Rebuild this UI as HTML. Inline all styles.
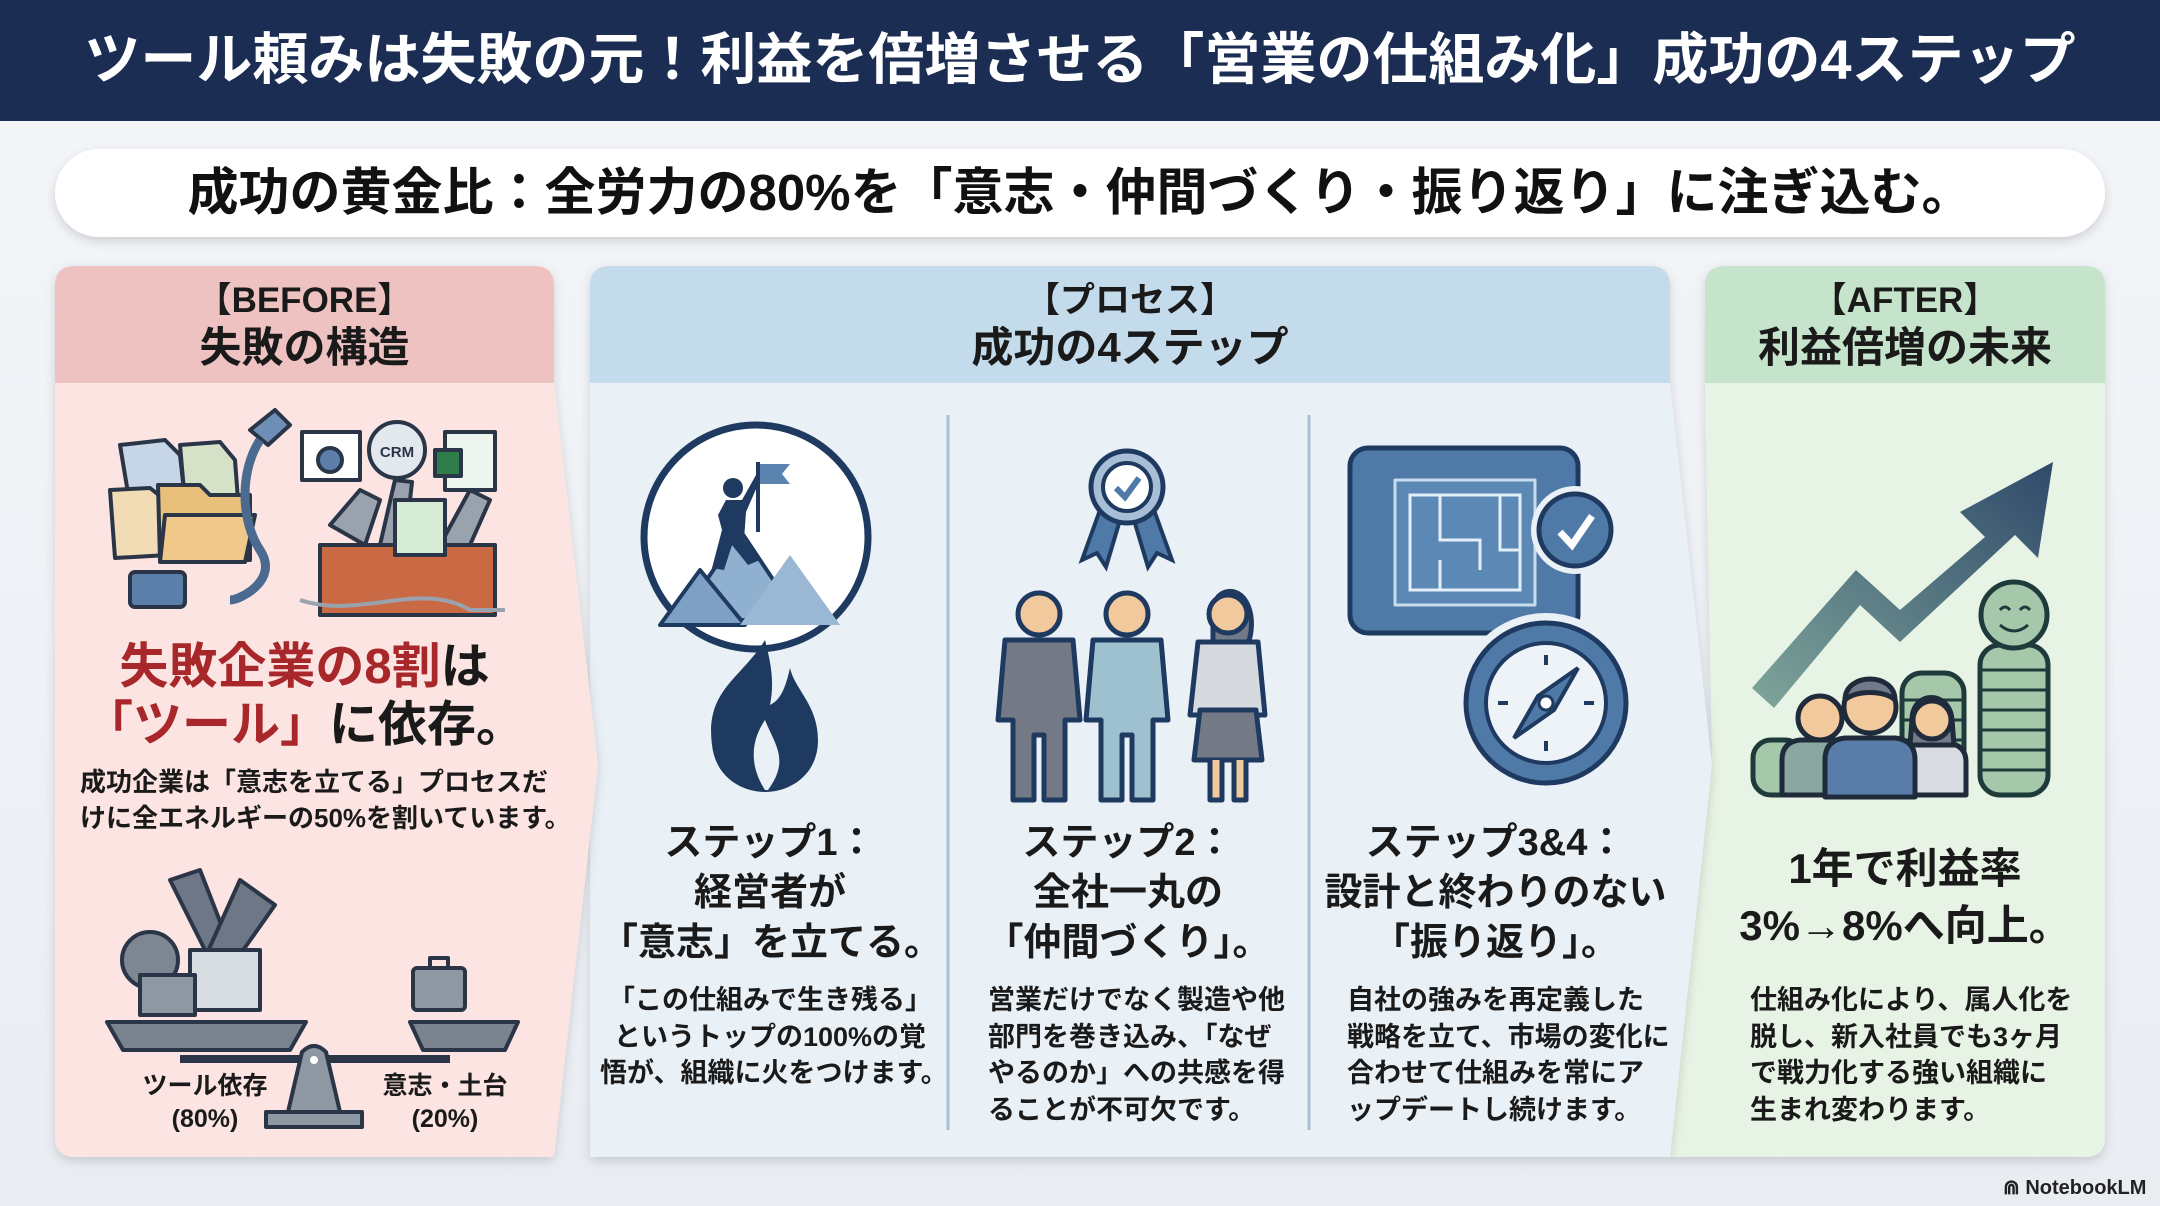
<!DOCTYPE html>
<html><head><meta charset="utf-8">
<style>
*{margin:0;padding:0;box-sizing:border-box}
body{width:2160px;height:1206px;overflow:hidden;background:#eef1f5;font-family:"Liberation Sans","Noto Sans CJK JP",sans-serif;font-weight:700;color:#1a1a1a}
.a{position:absolute;white-space:nowrap}
.c{text-align:center}
svg{position:absolute;left:0;top:0}
</style></head><body>
<svg width="2160" height="1206" viewBox="0 0 2160 1206">
<defs>
<filter id="sh" x="-5%" y="-20%" width="110%" height="150%"><feDropShadow dx="0" dy="4" stdDeviation="5" flood-color="#000" flood-opacity="0.15"/></filter>
<linearGradient id="bg" x1="0" y1="0" x2="0" y2="1"><stop offset="0" stop-color="#f4f6f9"/><stop offset="1" stop-color="#e9edf2"/></linearGradient>
<linearGradient id="ar" x1="0" y1="1" x2="1" y2="0"><stop offset="0" stop-color="#7fa59a"/><stop offset="1" stop-color="#2f4a6a"/></linearGradient>
</defs>
<rect x="0" y="0" width="2160" height="1206" fill="url(#bg)"/>
<rect x="0" y="0" width="2160" height="121" fill="#1b2d52"/>
<rect x="55" y="149" width="2050" height="88" rx="44" fill="#fff" filter="url(#sh)"/>

<!-- AFTER panel -->
<g filter="url(#sh)">
<path d="M1725,266 H2085 Q2105,266 2105,286 V1137 Q2105,1157 2085,1157 H1670 L1712,765 L1705,383 V286 Q1705,266 1725,266 Z" fill="#e7f3e4"/>
</g>
<path d="M1725,266 H2085 Q2105,266 2105,286 V383 H1705 V286 Q1705,266 1725,266 Z" fill="#c6e4cb"/>
<!-- PROCESS panel -->
<g filter="url(#sh)">
<path d="M610,266 H1650 Q1670,266 1670,286 V383 L1712,765 L1670,1157 H590 V286 Q590,266 610,266 Z" fill="#e9f0f6"/>
</g>
<path d="M610,266 H1650 Q1670,266 1670,286 V383 H590 V286 Q590,266 610,266 Z" fill="#c4dbec"/>
<!-- BEFORE panel -->
<g filter="url(#sh)">
<path d="M75,266 H534 Q554,266 554,286 V383 L598,765 L554,1157 H75 Q55,1157 55,1137 V286 Q55,266 75,266 Z" fill="#fbe4e1"/>
</g>
<path d="M75,266 H534 Q554,266 554,286 V383 H55 V286 Q55,266 75,266 Z" fill="#efc2c2"/>

<!-- dividers -->
<line x1="948" y1="415" x2="948" y2="1130" stroke="#a9bfd3" stroke-width="3"/>
<line x1="1309" y1="415" x2="1309" y2="1130" stroke="#a9bfd3" stroke-width="3"/>

<!-- STEP1 icon -->
<g stroke="#1f3a60" stroke-width="7" stroke-linejoin="round">
<circle cx="756" cy="537" r="112" fill="#fff"/>
<path d="M680,620 L740,530 L800,620 Z" fill="#8fb0cf" stroke-width="4"/>
<path d="M660,625 L700,570 L745,625 Z" fill="#7ea0c4" stroke-width="4"/>
<path d="M740,625 L790,555 L840,625 Z" fill="#9ab8d4" stroke="none"/>
</g>
<rect x="756" y="462" width="4" height="70" fill="#1f3a60"/>
<path d="M760,464 L790,464 L782,474 L790,484 L760,484 Z" fill="#5b83b0"/>
<circle cx="733" cy="488" r="10" fill="#1f3a60"/>
<path d="M726,500 L742,500 L756,475 L760,480 L746,512 L744,540 L760,560 L748,565 L732,545 L724,570 L712,568 L722,530 L718,515 Z" fill="#1f3a60"/>
<path d="M765,640 C740,680 705,690 712,745 C716,780 745,792 765,792 C790,792 818,775 818,740 C818,705 795,690 790,668 C785,690 780,700 770,705 C775,680 770,660 765,640 Z" fill="#1f3a60"/>
<path d="M765,790 C752,770 748,745 765,720 C775,745 790,760 768,790 Z" fill="#e9f0f6"/>

<!-- STEP2 icon -->
<path d="M1100,510 L1082,560 L1097,553 L1106,567 L1120,520 Z M1154,510 L1172,560 L1157,553 L1148,567 L1134,520 Z" fill="#4f7aa8" stroke="#1f3a60" stroke-width="4"/>
<circle cx="1127" cy="487" r="36" fill="#a7bfd6" stroke="#1f3a60" stroke-width="5"/>
<circle cx="1127" cy="487" r="24" fill="#fff" stroke="#1f3a60" stroke-width="4"/>
<path d="M1116,488 L1125,497 L1139,478" fill="none" stroke="#4f7aa8" stroke-width="6"/>
<g stroke="#1f3a60" stroke-width="5" stroke-linejoin="round">
<circle cx="1039" cy="614" r="21" fill="#f1c99c"/>
<path d="M1005,640 H1073 L1080,720 H1065 V800 H1044 V735 H1034 V800 H1013 V720 H998 Z" fill="#737a85"/>
<circle cx="1127" cy="614" r="21" fill="#f1c99c"/>
<path d="M1093,640 H1161 L1168,720 H1153 V800 H1132 V735 H1122 V800 H1101 V720 H1086 Z" fill="#9ec1cf"/>
<path d="M1213,612 C1213,590 1235,585 1245,600 C1255,615 1252,640 1245,648 H1213 Z" fill="#707a88"/>
<circle cx="1228" cy="614" r="19" fill="#f1c99c"/>
<path d="M1198,642 H1258 L1265,715 H1252 L1258,760 H1198 L1204,715 H1190 Z" fill="#d6d9de"/>
<path d="M1200,710 H1256 L1262,760 H1194 Z" fill="#737a85"/>
<path d="M1210,760 V800 H1222 V760 M1234,760 V800 H1246 V760" fill="#f1c99c"/>
</g>

<!-- STEP3 icon -->
<g stroke="#1f3a60" stroke-width="5" stroke-linejoin="round">
<rect x="1350" y="448" width="228" height="185" rx="18" fill="#4f7aa8"/>
<rect x="1395" y="480" width="140" height="125" fill="#5c88b6" stroke="#c9dcee" stroke-width="3"/>
</g>
<path d="M1410,495 V590 H1520 V495 Z M1440,495 V540 H1480 V570 M1500,495 V550 H1520 M1440,560 V590" fill="none" stroke="#e3eef8" stroke-width="3"/>
<circle cx="1575" cy="530" r="44" fill="#e9f0f6"/>
<circle cx="1575" cy="530" r="36" fill="#4f7aa8" stroke="#1f3a60" stroke-width="5"/>
<path d="M1560,532 L1572,545 L1592,516" fill="none" stroke="#fff" stroke-width="7"/>
<circle cx="1546" cy="703" r="90" fill="#e9f0f6"/>
<circle cx="1546" cy="703" r="80" fill="#4f7aa8" stroke="#1f3a60" stroke-width="5"/>
<circle cx="1546" cy="703" r="60" fill="#eef3f8" stroke="#1f3a60" stroke-width="4"/>
<path d="M1546,655 V665 M1546,741 V751 M1498,703 H1508 M1584,703 H1594" stroke="#1f3a60" stroke-width="4"/>
<path d="M1578,668 L1554,710 L1514,738 L1538,696 Z" fill="#4f7aa8" stroke="#1f3a60" stroke-width="4"/>
<circle cx="1546" cy="703" r="7" fill="#fff" stroke="#1f3a60" stroke-width="3"/>

<!-- AFTER icon -->
<path d="M1752,688 L1856,570 L1900,610 L1985,537 L1960,512 L2053,462 L2038,558 L2015,535 L1900,642 L1860,605 L1774,708 Z" fill="url(#ar)"/>
<g stroke="#1f3a3a" stroke-width="5">
<rect x="1753" y="740" width="50" height="55" rx="18" fill="#a5c7aa"/>
<rect x="1902" y="673" width="62" height="122" rx="20" fill="#a5c7aa"/>
<rect x="1980" y="645" width="68" height="150" rx="20" fill="#a5c7aa"/>
<circle cx="2014" cy="615" r="33" fill="#a5c7aa"/>
</g>
<g stroke="#1f3a3a" stroke-width="3">
<path d="M1980,670 H2048 M1980,690 H2048 M1980,710 H2048 M1980,730 H2048 M1980,750 H2048 M1980,770 H2048 M1902,700 H1964 M1902,720 H1964 M1902,740 H1964 M1902,760 H1964 M1902,780 H1964"/>
</g>
<path d="M2000,610 q5,-6 10,0 M2020,610 q5,-6 10,0 M2000,625 q14,12 28,0" fill="none" stroke="#1f3a3a" stroke-width="3"/>
<g stroke="#1f2a3a" stroke-width="5" stroke-linejoin="round">
<path d="M1782,795 V760 Q1782,742 1800,740 H1840 Q1858,742 1858,760 V795 Z" fill="#8aa8a0"/>
<circle cx="1820" cy="718" r="22" fill="#f1c99c"/>
<path d="M1900,795 V762 Q1900,745 1918,743 H1948 Q1966,745 1966,762 V795 Z" fill="#d8dce2"/>
<path d="M1912,720 C1912,690 1950,690 1952,720 L1954,745 H1910 Z" fill="#707a88"/>
<circle cx="1932" cy="720" r="19" fill="#f1c99c"/>
<path d="M1825,797 V760 Q1825,740 1845,738 H1895 Q1915,740 1915,760 V797 Z" fill="#5a7ca8"/>
<circle cx="1870" cy="707" r="26" fill="#f1c99c"/>
<path d="M1845,700 C1845,672 1895,672 1895,700 C1885,690 1855,690 1845,700 Z" fill="#707a88"/>
</g>

<!-- BEFORE tools cluster -->
<g stroke="#2a3548" stroke-width="4" stroke-linejoin="round">
<path d="M120,445 L165,440 L180,455 L185,500 L130,505 Z" fill="#c6d6e6"/>
<path d="M180,445 L220,442 L235,460 L238,500 L185,502 Z" fill="#d6e2c8"/>
<path d="M110,490 L150,488 L165,500 L168,555 L115,558 Z" fill="#f2dcb6"/>
<path d="M158,485 H200 L210,495 H250 V560 H160 Z" fill="#e8c07c"/>
<path d="M165,515 H255 L245,562 H160 Z" fill="#f0c88a"/>
<rect x="130" y="572" width="55" height="35" rx="5" fill="#5b7fa8"/>
<path d="M250,430 L275,410 L290,425 L268,445 Z" fill="#6d8fb5"/>
<path d="M260,440 C240,470 240,520 260,550 C280,580 240,600 230,600" fill="none" stroke="#4a6a90" stroke-width="9"/>
<rect x="302" y="432" width="58" height="48" fill="#fff"/>
<path d="M318,460 a12,12 0 1,0 24,0 a12,12 0 1,0 -24,0" fill="#5b7fa8"/>
<circle cx="397" cy="450" r="28" fill="#e3e8ee"/>
<rect x="445" y="432" width="50" height="58" fill="#eef4ee"/>
<rect x="435" y="450" width="26" height="26" fill="#2f7d4a"/>
<path d="M320,545 H495 V615 H320 Z" fill="#c96a44"/>
<path d="M330,525 L360,490 L380,500 L365,545 Z M440,545 L470,490 L490,500 L470,545 Z M380,545 L395,480 L412,482 L405,545 Z" fill="#9aa3ad"/>
<rect x="395" y="500" width="50" height="55" fill="#d6ecd6"/>
<path d="M300,600 C360,620 420,580 470,610 L505,610" fill="none" stroke="#9aa3ad" stroke-width="4"/>
</g>
<text x="397" y="457" font-size="15" text-anchor="middle" fill="#2a3548" font-family="Liberation Sans" font-weight="700">CRM</text>

<!-- BEFORE scale -->
<g stroke="#2a3548" stroke-width="4" stroke-linejoin="round">
<path d="M170,880 L200,870 L235,960 L215,970 Z" fill="#6e7785"/>
<path d="M240,880 L275,905 L215,990 L195,980 Z" fill="#6e7785"/>
<circle cx="150" cy="960" r="28" fill="#7d8692"/>
<rect x="190" y="950" width="70" height="60" fill="#d8dde2"/>
<rect x="140" y="975" width="55" height="40" fill="#8e97a2"/>
<rect x="413" y="968" width="52" height="42" rx="4" fill="#8e97a2"/>
<path d="M430,968 V958 H448 V968" fill="none"/>
<path d="M107,1022 H306 L290,1050 H123 Z" fill="#7a838e"/>
<path d="M410,1022 H518 L505,1050 H423 Z" fill="#7a838e"/>
<rect x="180" y="1055" width="270" height="8" fill="#2a3548" stroke="none"/>
<path d="M302,1052 Q314,1040 326,1052 L340,1112 H288 Z" fill="#8e97a2"/>
<rect x="266" y="1112" width="96" height="15" fill="#8e97a2"/>
</g>
<circle cx="314" cy="1060" r="4" fill="#fff"/>
</svg>

<!-- Texts -->
<div class="a c" style="left:0;width:2160px;top:26px;font-size:56px;line-height:68px;color:#fff">ツール頼みは失敗の元！利益を倍増させる「営業の仕組み化」成功の4ステップ</div>
<div class="a c" style="left:55px;width:2050px;top:160px;font-size:51px;line-height:66px;color:#111">成功の黄金比：全労力の80%を「意志・仲間づくり・振り返り」に注ぎ込む。</div>

<div class="a c" style="left:55px;width:499px;top:280px;font-size:35px;line-height:42px">【BEFORE】</div>
<div class="a c" style="left:55px;width:499px;top:323px;font-size:42px;line-height:50px">失敗の構造</div>
<div class="a c" style="left:590px;width:1080px;top:280px;font-size:35px;line-height:42px">【プロセス】</div>
<div class="a c" style="left:590px;width:1080px;top:323px;font-size:42px;line-height:50px">成功の4ステップ</div>
<div class="a c" style="left:1705px;width:400px;top:280px;font-size:35px;line-height:42px">【AFTER】</div>
<div class="a c" style="left:1705px;width:400px;top:323px;font-size:42px;line-height:50px">利益倍増の未来</div>

<div class="a c" style="left:55px;width:499px;top:638px;font-size:49px;line-height:58px;color:#1a1a1a"><span style="color:#a8272b">失敗企業の8割</span>は<br><span style="color:#a8272b">「ツール」</span>に依存。</div>
<div class="a" style="left:80px;top:764px;font-size:26px;line-height:36px">成功企業は「意志を立てる」プロセスだ<br>けに全エネルギーの50%を割いています。</div>
<div class="a c" style="left:110px;width:190px;top:1070px;font-size:25px;line-height:33px">ツール依存<br>(80%)</div>
<div class="a c" style="left:360px;width:170px;top:1070px;font-size:25px;line-height:33px">意志・土台<br>(20%)</div>

<div class="a c" style="left:600px;width:340px;top:818px;font-size:38px;line-height:50px">ステップ1：<br>経営者が<br>「意志」を立てる。</div>
<div class="a c" style="left:600px;width:340px;top:982px;font-size:27px;line-height:36.5px">「この仕組みで生き残る」<br>というトップの100%の覚<br>悟が、組織に火をつけます。</div>

<div class="a c" style="left:958px;width:340px;top:818px;font-size:38px;line-height:50px">ステップ2：<br>全社一丸の<br>「仲間づくり」。</div>
<div class="a" style="left:988px;top:982px;font-size:27px;line-height:36.5px">営業だけでなく製造や他<br>部門を巻き込み、「なぜ<br>やるのか」への共感を得<br>ることが不可欠です。</div>

<div class="a c" style="left:1318px;width:355px;top:818px;font-size:38px;line-height:50px">ステップ3&amp;4：<br>設計と終わりのない<br>「振り返り」。</div>
<div class="a" style="left:1347px;top:982px;font-size:27px;line-height:36.5px">自社の強みを再定義した<br>戦略を立て、市場の変化に<br>合わせて仕組みを常にア<br>ップデートし続けます。</div>

<div class="a c" style="left:1705px;width:400px;top:840px;font-size:42px;line-height:57px">1年で利益率<br>3%→8%へ向上。</div>
<div class="a" style="left:1750px;top:982px;font-size:27px;line-height:36.5px">仕組み化により、属人化を<br>脱し、新入社員でも3ヶ月<br>で戦力化する強い組織に<br>生まれ変わります。</div>

<div class="a" style="left:2003px;top:1175px;font-size:20px;line-height:26px;color:#222">⋒ NotebookLM</div>
</body></html>
